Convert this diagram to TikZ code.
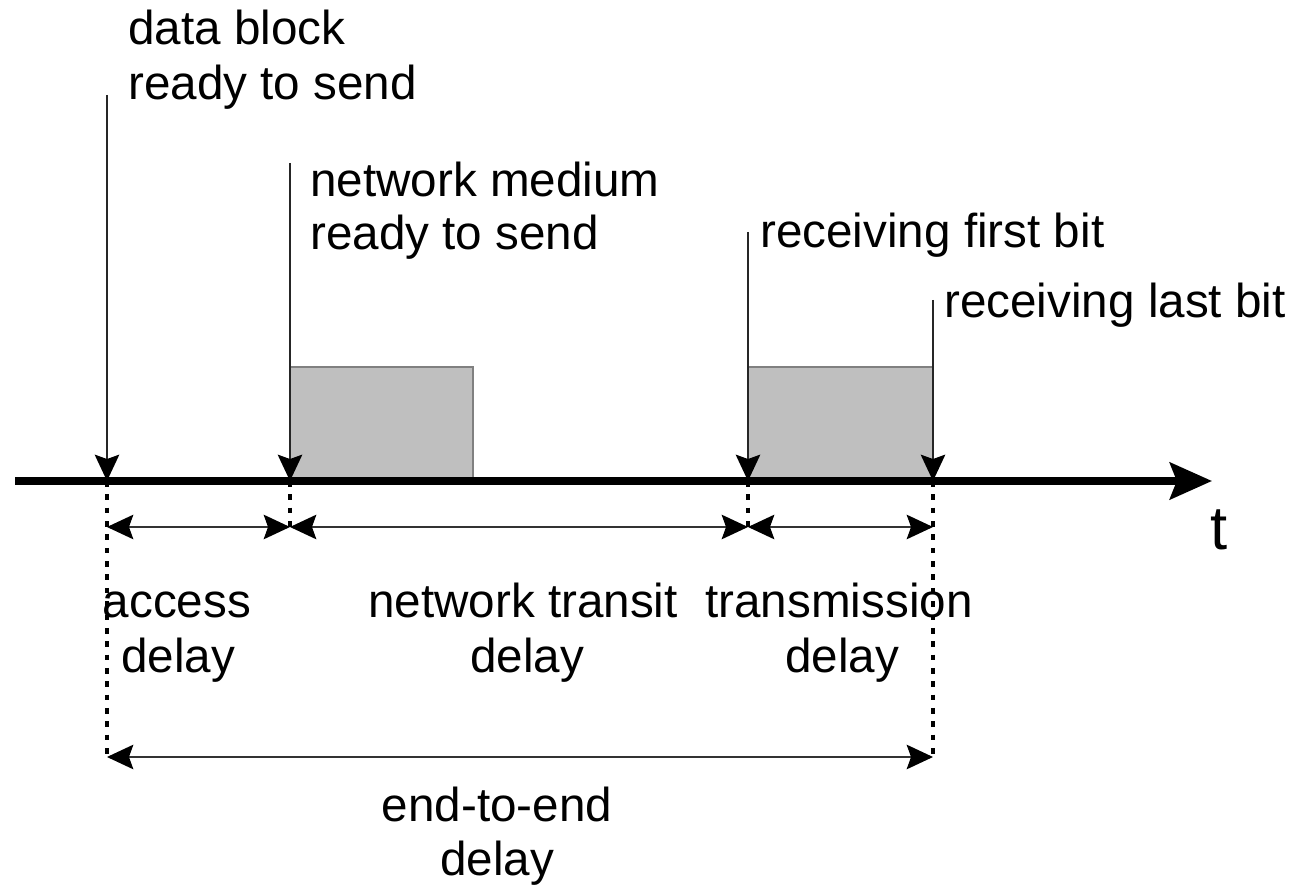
\documentclass[tikz,border=0pt]{standalone}
\usepackage{fontspec}
\setmainfont{Liberation Sans}
\usetikzlibrary{arrows.meta}
\tikzset{
  tipsmall/.tip={Stealth[length=15pt,width=14pt,inset=2.5pt,black]},
  tipbig/.tip={Stealth[length=24pt,width=21pt,inset=4pt]},
  lbl/.style={inner sep=0pt, font=\fontsize{27.1}{30.7}\selectfont},
  evline/.style={line width=0.9pt, draw=black!85, -tipsmall},
  dimline/.style={line width=0.8pt, draw=black!80, tipsmall-tipsmall},
  guide/.style={line width=2pt, dash pattern=on 3.2pt off 4.4pt},
  block/.style={fill=black!25, draw=black!50, line width=0.8pt},
  timeaxis/.style={line width=4pt, -tipbig}
}
\begin{document}
\begin{tikzpicture}[x=0.02cm,y=-0.02cm]
\useasboundingbox (0,0) rectangle (1303,888);
% coordinates on the axis
\coordinate (e1) at (107,481);
\coordinate (e2) at (290,481);
\coordinate (e3) at (748,481);
\coordinate (e4) at (933,481);
\coordinate (e1t) at (107,95);
\coordinate (e2t) at (290,163);
\coordinate (e3t) at (748,232);
\coordinate (e4t) at (933,300);
\coordinate (ax0) at (15,481);
\coordinate (ax1) at (1212,481);
% blocks
\draw[block] (290,481) rectangle (473,367);
\draw[block] (748,481) rectangle (933,367);
% time axis
\draw[timeaxis] (ax0) -- (ax1);
\node[lbl, anchor=base west, font=\fontsize{35}{40}\selectfont] (tlab) at (1210,550) {t};
% event lines
\draw[evline] (e1t) -- (e1);
\draw[evline] (e2t) -- (e2);
\draw[evline] (e3t) -- (e3);
\draw[evline] (e4t) -- (e4);
% guides
\coordinate (g1) at (107,757);
\coordinate (g2) at (290,527);
\coordinate (g3) at (748,527);
\coordinate (g4) at (933,757);
\coordinate (d1) at (107,527);
\coordinate (d4) at (933,527);
\draw[guide] (e1) -- (g1);
\draw[guide] (e2) -- (g2);
\draw[guide] (e3) -- (g3);
\draw[guide] (e4) -- (g4);
% dimension arrows
\draw[dimline] (d1) -- (g2);
\draw[dimline] (g2) -- (g3);
\draw[dimline] (g3) -- (d4);
\draw[dimline] (g1) -- (g4);
% labels above
\node[lbl, anchor=base west] (db1) at (128,45) {data block};
\node[lbl, anchor=base west] (db2) at (128,100) {ready to send};
\node[lbl, anchor=base west] (nm1) at (310,197) {network medium};
\node[lbl, anchor=base west] (nm2) at (310,250) {ready to send};
\node[lbl, anchor=base west] (rf) at (760,248) {receiving first bit};
\node[lbl, anchor=base west] (rl) at (944,318) {receiving last bit};
% labels below
\node[lbl, anchor=base] (ad1) at (177,618) {access};
\node[lbl, anchor=base] (ad2) at (178,673) {delay};
\node[lbl, anchor=base] (nt1) at (523,618) {network transit};
\node[lbl, anchor=base] (nt2) at (527,673) {delay};
\node[lbl, anchor=base] (tr1) at (839,618) {transmission};
\node[lbl, anchor=base] (tr2) at (842,673) {delay};
\node[lbl, anchor=base] (ee1) at (497,822) {end-to-end};
\node[lbl, anchor=base] (ee2) at (497,875) {delay};
\end{tikzpicture}
\end{document}
